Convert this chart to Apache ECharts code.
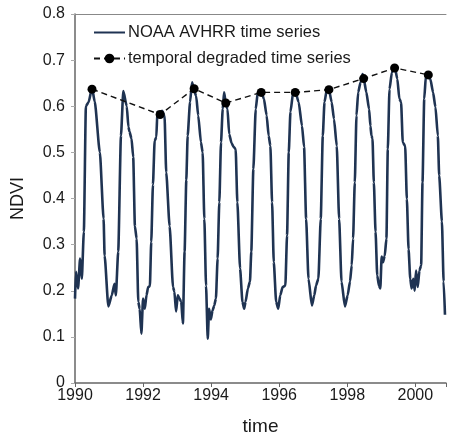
<!DOCTYPE html>
<html>
<head>
<meta charset="utf-8">
<script src="https://cdn.jsdelivr.net/npm/echarts@6/dist/echarts.min.js"></script>
<style>
html,body{margin:0;padding:0;background:#fff;}
#chart{width:449px;height:441px;}
</style>
</head>
<body>
<div id="chart"></div>
<script>
// NOAA AVHRR NDVI time series (decimal year, NDVI)
var ndviYears = [
1990.00,1990.03,1990.09,1990.15,1990.20,1990.26,1990.32,1990.40,1990.50,1990.58,1990.73,1990.84,1990.87,1990.98,
1991.08,1991.16,1991.20,1991.27,1991.35,1991.42,1991.52,1991.57,1991.60,1991.66,1991.71,1991.76,1991.81,1991.86,1991.90,1991.95,
1992.00,1992.05,1992.10,1992.15,1992.20,1992.24,1992.29,1992.34,1992.39,1992.42,1992.49,1992.56,1992.63,1992.68,1992.78,1992.88,1992.92,1992.97,
1993.02,1993.07,1993.12,1993.17,1993.22,1993.27,1993.31,1993.38,1993.44,1993.49,1993.56,1993.62,1993.70,1993.75,1993.80,1993.85,1993.90,1993.94,1993.99,
1994.04,1994.09,1994.14,1994.19,1994.24,1994.29,1994.34,1994.38,1994.43,1994.48,1994.53,1994.60,1994.66,1994.72,1994.77,1994.85,1994.92,1994.97,
1995.01,1995.08,1995.14,1995.18,1995.24,1995.31,1995.37,1995.47,1995.55,1995.63,1995.69,1995.74,1995.79,1995.84,1995.91,1995.97,
1996.03,1996.10,1996.18,1996.23,1996.28,1996.33,1996.41,1996.47,1996.57,1996.67,1996.73,1996.79,1996.86,1996.96,
1997.03,1997.08,1997.15,1997.22,1997.28,1997.33,1997.40,1997.46,1997.54,1997.61,1997.69,1997.76,1997.83,1997.93,
1998.01,1998.08,1998.13,1998.17,1998.22,1998.27,1998.32,1998.39,1998.45,1998.48,1998.56,1998.64,1998.68,1998.71,1998.74,1998.78,1998.83,1998.88,1998.93,1998.97,
1999.01,1999.05,1999.10,1999.15,1999.19,1999.24,1999.31,1999.39,1999.47,1999.53,1999.58,1999.63,1999.70,1999.75,1999.80,1999.85,1999.89,1999.94,1999.98,
2000.02,2000.07,2000.12,2000.17,2000.21,2000.26,2000.31,2000.38,2000.44,2000.52,2000.59,2000.66,2000.70,2000.78,2000.83,2000.87
];
var ndviValues = [
0.183,0.241,0.205,0.270,0.226,0.328,0.600,0.609,0.640,0.610,0.500,0.356,0.276,0.166,
0.190,0.215,0.190,0.285,0.536,0.633,0.600,0.555,0.545,0.530,0.490,0.340,0.313,0.176,0.161,0.107,
0.183,0.161,0.190,0.208,0.210,0.306,0.430,0.525,0.533,0.588,0.583,0.590,0.580,0.457,0.340,0.208,0.198,0.155,
0.190,0.183,0.176,0.129,0.285,0.440,0.536,0.609,0.652,0.637,0.622,0.580,0.522,0.500,0.356,0.211,0.096,0.161,0.138,
0.157,0.168,0.183,0.270,0.392,0.522,0.594,0.630,0.607,0.594,0.540,0.520,0.512,0.507,0.392,0.248,0.176,0.161,
0.176,0.205,0.220,0.285,0.464,0.594,0.630,0.633,0.616,0.580,0.536,0.514,0.392,0.262,0.176,0.161,
0.190,0.208,0.211,0.320,0.500,0.588,0.630,0.633,0.609,0.557,0.512,0.356,0.226,0.168,
0.190,0.211,0.226,0.356,0.536,0.609,0.637,0.637,0.609,0.572,0.514,0.356,0.220,0.166,
0.190,0.220,0.255,0.313,0.435,0.580,0.630,0.652,0.670,0.661,0.630,0.594,0.557,0.536,0.530,0.435,0.328,0.233,0.211,0.205,
0.274,0.262,0.276,0.313,0.507,0.637,0.673,0.687,0.659,0.616,0.609,0.522,0.514,0.399,0.290,0.226,0.205,0.226,0.200,
0.244,0.208,0.244,0.255,0.435,0.616,0.666,0.670,0.659,0.630,0.598,0.536,0.450,0.350,0.220,0.148
];
// temporal degraded time series (annual peak samples)
var degradedYears  = [1990.50,1992.50,1993.50,1994.43,1995.47,1996.47,1997.46,1998.48,1999.39,2000.38];
var degradedValues = [0.637,0.582,0.638,0.607,0.630,0.630,0.636,0.660,0.683,0.668];

var xTickLabels = [1990,1992,1994,1996,1998,2000];
var yTickLabels = [0,0.1,0.2,0.3,0.4,0.5,0.6,0.7,0.8];

var seriesNames = ['NOAA AVHRR time series','temporal degraded time series'];

var ndviData = ndviYears.map(function(y,i){return [y, ndviValues[i]];});
var degData = degradedYears.map(function(y,i){return [y, degradedValues[i]];});

var axisColor = '#666';
var textColor = '#1a1a1a';
var font = '"Liberation Sans", Arial, sans-serif';

var chart = echarts.init(document.getElementById('chart'), null, {renderer:'canvas'});
chart.setOption({
  animation:false,
  backgroundColor:'#fff',
  grid:{left:75, right:0, top:14, bottom:56},
  legend:{
    orient:'vertical', left:93, top:24, padding:0,
    itemWidth:31, itemHeight:12, itemGap:9,
    textStyle:{fontFamily:font, fontSize:16.5, color:textColor, padding:[0,0,0,-2]},
    data:[{name:seriesNames[0], itemStyle:{opacity:0}},{name:seriesNames[1]}]
  },
  xAxis:[{
    type:'value', min:1990, max:2000.9, interval:2,
    name:'time', nameLocation:'middle', nameGap:34,
    nameTextStyle:{fontFamily:font, fontSize:19, color:textColor},
    axisLine:{lineStyle:{color:axisColor, width:1.5}},
    axisTick:{show:true, length:4, lineStyle:{color:axisColor}},
    axisLabel:{fontFamily:font, fontSize:16, color:textColor, margin:5,
      formatter:function(v){ return xTickLabels.indexOf(v) >= 0 ? String(v) : ''; }},
    splitLine:{show:false}
  },{
    type:'value', position:'top', min:1990, max:2000.9,
    axisLine:{show:true, lineStyle:{color:'#888', width:1}},
    axisTick:{show:false}, axisLabel:{show:false}, splitLine:{show:false}
  }],
  yAxis:{
    type:'value', min:0, max:0.8, interval:0.1,
    name:'NDVI', nameLocation:'middle', nameGap:48,
    nameTextStyle:{fontFamily:font, fontSize:18, color:textColor},
    axisLine:{show:true, lineStyle:{color:axisColor, width:1.5}},
    axisTick:{show:true, length:4, lineStyle:{color:'#aaa'}},
    axisLabel:{fontFamily:font, fontSize:16, color:textColor, margin:10,
      formatter:function(v){
        var r = Math.round(v*10)/10;
        return yTickLabels.indexOf(r) >= 0 ? String(r) : '';
      }},
    splitLine:{show:false}
  },
  series:[{
    name:seriesNames[0], type:'line', data:ndviData,
    showSymbol:false, symbol:'none', smooth:0.2, smoothMonotone:'x',
    lineStyle:{color:'#1f3352', width:2.6},
    itemStyle:{color:'#1f3352'}, z:2
  },{
    name:seriesNames[1], type:'line', data:degData,
    symbol:'circle', symbolSize:9,
    lineStyle:{color:'#111', width:1.4, type:[6,4]},
    itemStyle:{color:'#000'}, z:3
  }]
});
</script>
</body>
</html>
